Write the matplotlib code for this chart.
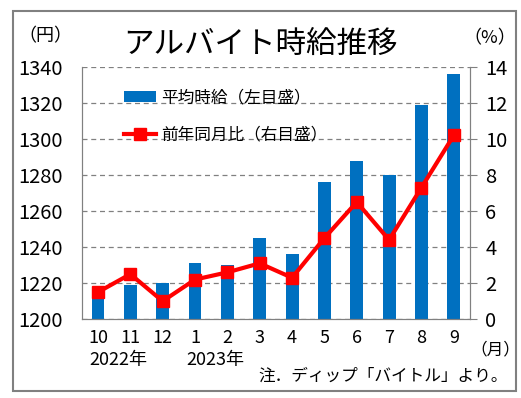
import matplotlib
matplotlib.use("Agg")
import matplotlib.pyplot as plt
from matplotlib.patches import Rectangle

plt.rcParams['font.family'] = ['Noto Sans CJK JP', 'DejaVu Sans']

# データ
months = ['10', '11', '12', '1', '2', '3', '4', '5', '6', '7', '8', '9']
wage = [1212, 1219, 1220, 1231, 1230, 1245, 1236, 1276, 1288, 1280, 1319, 1336]
yoy = [1.5, 2.5, 1.0, 2.2, 2.6, 3.1, 2.3, 4.5, 6.5, 4.4, 7.3, 10.2]
year_labels = [(0, '2022年'), (3, '2023年')]

blue = '#0070C0'
red = '#FF0000'
grey = '#808080'

fig = plt.figure(figsize=(5.21, 3.98), dpi=100)
ax = fig.add_axes([0.157, 0.198, 0.745, 0.634])
ax2 = ax.twinx()

x = list(range(len(months)))
ax.bar(x, wage, width=0.4, color=blue, label='平均時給（左目盛）', zorder=2)
ax.set_ylim(1200, 1340)
ax.set_yticks(range(1200, 1341, 20))
ax.set_xlim(-0.5, len(months) - 0.5)
ax.grid(axis='y', color=grey, linestyle=(0, (4, 3)), linewidth=0.9, zorder=0)
ax.set_axisbelow(True)

ax2.plot(x, yoy, color=red, linewidth=3, marker='s', markersize=9,
         label='前年同月比（右目盛）', zorder=3)
ax2.set_ylim(0, 14)
ax2.set_yticks(range(0, 15, 2))

for a in (ax, ax2):
    a.spines['top'].set_visible(False)
    for s in ('left', 'right', 'bottom'):
        a.spines[s].set_color(grey)
ax.tick_params(axis='y', length=0, labelsize=14.5, pad=14)
ax2.tick_params(axis='y', length=5, color=grey, labelsize=14.5, pad=6)
ax.set_xticks(x)
ax.set_xticklabels(months)
ax.tick_params(axis='x', length=0, labelsize=13, pad=7)

for i, lab in year_labels:
    ax.text(i - 0.27, -0.163, lab, transform=ax.get_xaxis_transform(),
            fontsize=13, ha='left', va='center')
ax.text(1.0, -0.12, '（月）', transform=ax.transAxes, fontsize=12,
        ha='left', va='center')

h1, l1 = ax.get_legend_handles_labels()
h2, l2 = ax2.get_legend_handles_labels()
leg = ax2.legend(h1 + h2, l1 + l2, loc='upper left', bbox_to_anchor=(0.07, 0.97),
                 frameon=False, fontsize=12, handlelength=1.9, handletextpad=0.3,
                 labelspacing=1.2)

fig.text(0.5, 0.888, 'アルバイト時給推移', fontsize=22, ha='center', va='center')
fig.text(0.088, 0.908, '（円）', fontsize=13, ha='center', va='center')
fig.text(0.94, 0.905, '（%）', fontsize=13, ha='center', va='center')
fig.text(0.975, 0.055, '注．ディップ「バイトル」より。', fontsize=12, ha='right', va='center')

fig.patches.append(Rectangle((0.025, 0.018), 0.965, 0.955, transform=fig.transFigure,
                             fill=False, edgecolor=grey, linewidth=1.5))

fig.savefig('out.png', dpi=100)
